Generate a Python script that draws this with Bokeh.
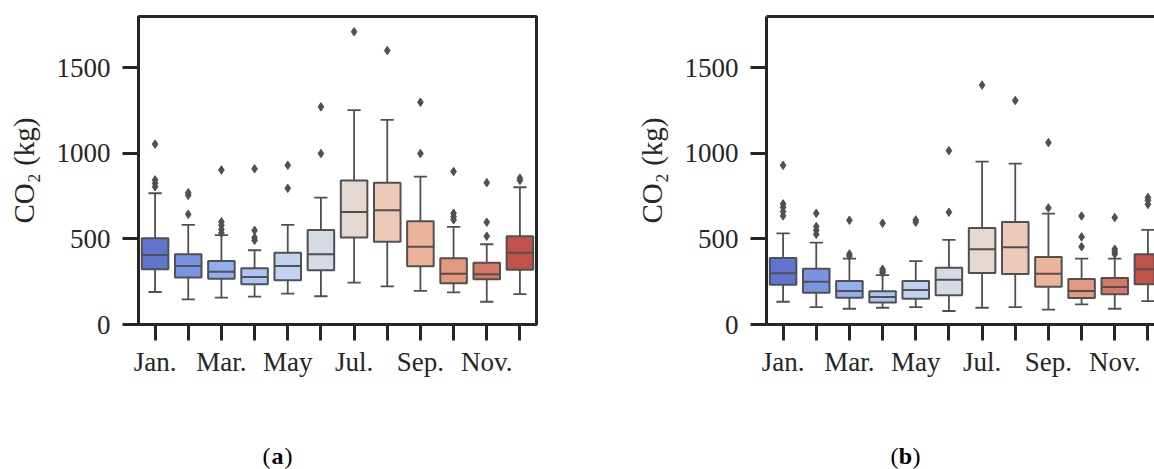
import colorsys
from bokeh.plotting import figure
from bokeh.layouts import row, column
from bokeh.models import Range1d, FixedTicker, Label, ColumnDataSource, LinearAxis
from bokeh.embed import file_html
from bokeh.resources import INLINE

# ---------------- data ----------------
months = ["Jan.", "Feb.", "Mar.", "Apr.", "May", "Jun.",
          "Jul.", "Aug.", "Sep.", "Oct.", "Nov.", "Dec."]
tick_labels = ["Jan.", "", "Mar.", "", "May", "", "Jul.", "", "Sep.", "", "Nov.", ""]
y_ticks = [0, 500, 1000, 1500]
y_label = "CO\u2082 (kg)"
captions = ["a", "b"]

# panel (a)
a_lo = [190, 147, 157, 163, 180, 165, 245, 223, 196, 188, 133, 177]
a_q1 = [323, 274, 268, 235, 258, 317, 508, 484, 340, 241, 264, 320]
a_med = [406, 342, 309, 278, 342, 410, 658, 668, 455, 297, 294, 420]
a_q3 = [504, 410, 371, 329, 420, 553, 841, 828, 603, 387, 361, 516]
a_hi = [767, 582, 522, 434, 582, 742, 1253, 1196, 864, 570, 469, 802]
a_out = [[1054, 845, 825, 805], [770, 755, 644], [903, 600, 580, 555, 535],
         [910, 550, 508, 492], [931, 796], [1272, 999], [1711], [1601],
         [1299, 999], [894, 650, 630, 612], [829, 598, 516], [855, 842]]

# panel (b)
b_lo = [133, 102, 92, 98, 102, 79, 98, 102, 87, 118, 92, 137]
b_q1 = [233, 186, 157, 128, 151, 171, 301, 295, 221, 155, 177, 235]
b_med = [299, 250, 196, 161, 202, 262, 440, 451, 297, 196, 219, 323]
b_q3 = [389, 326, 254, 194, 254, 332, 564, 599, 395, 266, 272, 410]
b_hi = [533, 478, 385, 288, 370, 494, 952, 940, 648, 385, 385, 553]
b_out = [[930, 705, 685, 660, 635], [650, 572, 551, 527], [609, 412, 400],
         [592, 323, 312, 303], [611, 598], [1016, 656], [1399], [1309],
         [1063, 681], [634, 512, 455], [625, 440, 426, 412], [742, 725, 702]]

# ---------------- palette (coolwarm, 12 colours, desaturated) ----------------
_cw = [
    (0.2298057, 0.298717966, 0.753683153), (0.26623388, 0.353094838, 0.801466763),
    (0.30386891, 0.406535296, 0.84495867), (0.342804478, 0.458757618, 0.883725899),
    (0.38301334, 0.50941904, 0.917387822), (0.424369608, 0.558148092, 0.945619588),
    (0.46666708, 0.604562568, 0.968154911), (0.509635204, 0.648280772, 0.98478814),
    (0.552953156, 0.688929332, 0.995375608), (0.596262162, 0.726149107, 0.999836203),
    (0.639176211, 0.759599947, 0.998151185), (0.681291281, 0.788964712, 0.990363227),
    (0.722193294, 0.813952739, 0.976574709), (0.761464949, 0.834302879, 0.956945269),
    (0.798691636, 0.849786142, 0.931688648), (0.833466556, 0.860207984, 0.901068838),
    (0.865395197, 0.86541021, 0.865395561), (0.897787179, 0.848937047, 0.820880546),
    (0.924127593, 0.827384882, 0.774508472), (0.944468518, 0.800927443, 0.726736146),
    (0.958852946, 0.769767752, 0.678007945), (0.96732803, 0.734132809, 0.628751763),
    (0.969954137, 0.694266682, 0.579375448), (0.966811177, 0.650421156, 0.530263762),
    (0.958003065, 0.602842431, 0.481775914), (0.943660866, 0.551750968, 0.434243684),
    (0.923944917, 0.49730856, 0.387970225), (0.89904617, 0.439559467, 0.343229596),
    (0.869186849, 0.378313092, 0.300267182), (0.834620542, 0.312874446, 0.259301199),
    (0.795631745, 0.24128379, 0.220525627), (0.752534934, 0.157246067, 0.184115123),
    (0.705673158, 0.01555616, 0.150232812)]


def coolwarm(t):
    pos = t * (len(_cw) - 1)
    i = min(int(pos), len(_cw) - 2)
    f = pos - i
    return tuple(_cw[i][k] * (1 - f) + _cw[i + 1][k] * f for k in range(3))


def desat(c, prop=0.8):
    h, l, s = colorsys.rgb_to_hls(*c)
    return colorsys.hls_to_rgb(h, l, s * prop)


def to_hex(c):
    return "#%02x%02x%02x" % tuple(int(round(v * 255)) for v in c)


n = len(months)
rgb = [desat(coolwarm((k + 1) / (n + 1))) for k in range(n)]
palette = [to_hex(c) for c in rgb]
lum = min(colorsys.rgb_to_hls(*c)[1] for c in rgb) * 0.6
gray = to_hex((lum, lum, lum))
DARK = "#262626"
SERIF = "Liberation Serif"
W = 577
H_PLOT = 435
H_CAP = 34


def make_panel(lo, q1, med, q3, hi, out, border_left, border_right, x_end, full_frame):
    p = figure(width=W, height=H_PLOT, x_range=Range1d(-0.5, x_end), y_range=Range1d(0, 1800),
               output_backend="svg", toolbar_location=None,
               min_border_left=border_left, min_border_right=border_right,
               min_border_top=16, min_border_bottom=H_PLOT - 324)
    p.grid.visible = False
    p.background_fill_color = "white"
    p.border_fill_color = "white"
    xax = p.below[0]
    yax = p.left[0]
    if full_frame:
        p.outline_line_color = DARK
        p.outline_line_width = 3
        p.outline_line_alpha = 1
    else:
        p.outline_line_color = None
        top = LinearAxis(ticker=FixedTicker(ticks=[]), axis_line_color=DARK, axis_line_width=3,
                         major_tick_out=0, major_tick_in=0, major_label_standoff=0,
                         minor_tick_out=0, minor_tick_in=0,
                         minor_tick_line_color=None, major_tick_line_color=None,
                         major_label_text_font_size="0px")
        p.add_layout(top, "above")

    xs = list(range(n))
    src = ColumnDataSource(dict(
        x=xs, lo=lo, q1=q1, med=med, q3=q3, hi=hi, color=palette,
        xl=[x - 0.4 for x in xs], xr=[x + 0.4 for x in xs],
        cl=[x - 0.2 for x in xs], cr=[x + 0.2 for x in xs]))

    # whiskers
    p.segment(x0="x", y0="q3", x1="x", y1="hi", source=src, line_color=gray, line_width=1.8)
    p.segment(x0="x", y0="lo", x1="x", y1="q1", source=src, line_color=gray, line_width=1.8)
    # caps
    p.segment(x0="cl", y0="hi", x1="cr", y1="hi", source=src, line_color=gray, line_width=1.8)
    p.segment(x0="cl", y0="lo", x1="cr", y1="lo", source=src, line_color=gray, line_width=1.8)
    # boxes
    p.vbar(x="x", width=0.8, bottom="q1", top="q3", source=src,
           fill_color="color", line_color=gray, line_width=2)
    # medians
    p.segment(x0="xl", y0="med", x1="xr", y1="med", source=src, line_color=gray, line_width=2)
    # outliers
    ox, oy = [], []
    for i, vals in enumerate(out):
        for v in vals:
            ox.append(i)
            oy.append(v)
    p.scatter(ox, oy, marker="diamond", size=8.5, fill_color=gray, line_color=gray)

    # axes
    for ax in (xax, yax):
        ax.axis_line_color = DARK
        ax.axis_line_width = 3
        ax.major_tick_line_color = DARK
        ax.major_tick_line_width = 3
        ax.major_tick_in = 0
        ax.major_tick_out = 16
        ax.minor_tick_line_color = None
        ax.major_label_text_font = SERIF
        ax.major_label_text_font_size = "27px"
        ax.major_label_text_color = DARK
    xax.ticker = FixedTicker(ticks=xs)
    xax.major_label_overrides = {i: tick_labels[i] for i in xs}
    xax.major_label_standoff = 6
    yax.ticker = FixedTicker(ticks=y_ticks)
    yax.major_label_standoff = 12
    yax.axis_label = y_label
    yax.axis_label_text_font = SERIF
    yax.axis_label_text_font_size = "29px"
    yax.axis_label_text_font_style = "normal"
    yax.axis_label_text_color = DARK
    yax.axis_label_standoff = 14
    return p


def make_caption(letter, cx):
    c = figure(width=W, height=H_CAP, x_range=Range1d(0, 1), y_range=Range1d(0, 1),
               output_backend="svg", toolbar_location=None,
               x_axis_type=None, y_axis_type=None,
               min_border_left=0, min_border_right=0, min_border_top=0, min_border_bottom=0)
    c.grid.visible = False
    c.outline_line_color = None
    cy = 14
    c.add_layout(Label(x=cx - 7, y=cy, x_units="screen", y_units="screen", text="(",
                       text_align="right", text_baseline="middle", text_font=SERIF,
                       text_font_size="24px", text_color="black"))
    c.add_layout(Label(x=cx, y=cy, x_units="screen", y_units="screen", text=letter,
                       text_align="center", text_baseline="middle", text_font=SERIF,
                       text_font_style="bold", text_font_size="24px", text_color="black"))
    c.add_layout(Label(x=cx + 7, y=cy, x_units="screen", y_units="screen", text=")",
                       text_align="left", text_baseline="middle", text_font=SERIF,
                       text_font_size="24px", text_color="black"))
    return c


pa = make_panel(a_lo, a_q1, a_med, a_q3, a_hi, a_out, 138, 41, 11.5, True)
pb = make_panel(b_lo, b_q1, b_med, b_q3, b_hi, b_out, 189, 0, -0.5 + 388 / (398 / 12), False)
ca = make_caption(captions[0], 277)
cb = make_caption(captions[1], 905 - W)

layout = column(row(pa, pb), row(ca, cb))
open("out.html", "w").write(file_html(layout, INLINE))
